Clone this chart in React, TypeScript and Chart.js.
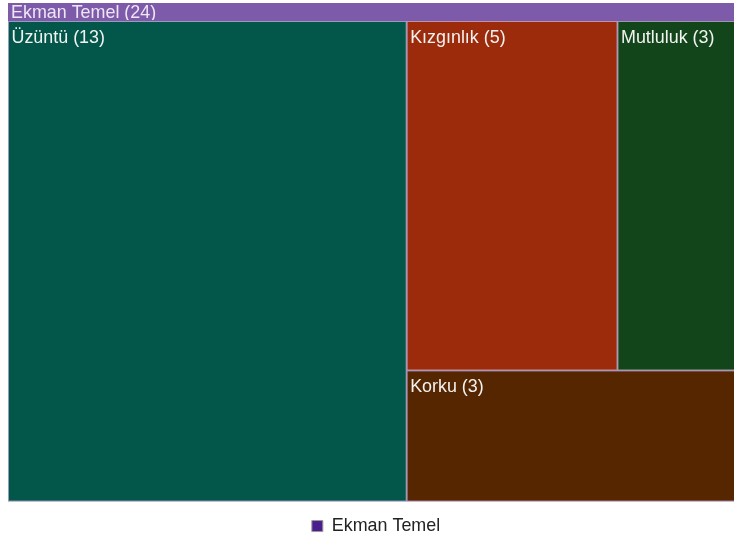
import React, { useEffect, useRef } from 'react';
import { Chart, registerables } from 'chart.js';

Chart.register(...registerables);

// ---- data ----
const groupLabel = 'Ekman Temel';
const categories = ['Üzüntü', 'Kızgınlık', 'Mutluluk', 'Korku'];
const values = [13, 5, 3, 3];
const cellColors = ['#03574A', '#9C2B0B', '#12461A', '#552600'];
const groupColor = '#7E5BAA';
const legendColor = '#4B1E8E';

// ---- styles ----
const FONT = '"Liberation Sans", Arial, Helvetica, sans-serif';
const FS = 17.9;
const CAPTION_H = 17;
const RATIO_LIMIT = 3;

type Item = { label: string; value: number; color: string };
type Cell = Item & { x: number; y: number; w: number; h: number };

function sumOf(a: number[]) {
  return a.reduce((s, v) => s + v, 0);
}

function worst(row: number[], side: number, k: number) {
  const s = sumOf(row) * k;
  const max = Math.max(...row) * k;
  const min = Math.min(...row) * k;
  return Math.max((side * side * max) / (s * s), (s * s) / (side * side * min));
}

function squarify(items: Item[], rx: number, ry: number, rw: number, rh: number): Cell[] {
  const total = sumOf(items.map((d) => d.value));
  const k = (rw * rh) / total;
  let x = rx, y = ry, w = rw, h = rh;
  const out: Cell[] = [];
  let i = 0;
  while (i < items.length) {
    const side = Math.min(w, h);
    let row: Item[] = [items[i]];
    let j = i + 1;
    while (j < items.length) {
      const cand = row.concat(items[j]);
      const cw = worst(cand.map((d) => d.value), side, k);
      const pw = worst(row.map((d) => d.value), side, k);
      if (cw > Math.max(pw, RATIO_LIMIT)) break;
      row = cand;
      j++;
    }
    const rowArea = sumOf(row.map((d) => d.value)) * k;
    if (w >= h) {
      const cw = rowArea / h;
      let cy = y;
      row.forEach((it) => {
        const ih = (it.value * k) / cw;
        out.push({ ...it, x, y: cy, w: cw, h: ih });
        cy += ih;
      });
      x += cw;
      w -= cw;
    } else {
      const rhh = rowArea / w;
      let cx = x;
      row.forEach((it) => {
        const iw = (it.value * k) / rhh;
        out.push({ ...it, x: cx, y, w: iw, h: rhh });
        cx += iw;
      });
      y += rhh;
      h -= rhh;
    }
    i = j;
  }
  return out;
}

const treemapPlugin = {
  id: 'treemapCells',
  beforeDatasetsDraw(chart: any) {
    const { ctx } = chart;
    const xs = chart.scales.x;
    const ys = chart.scales.y;
    const left = xs.getPixelForValue(0);
    const right = xs.getPixelForValue(1);
    const top = ys.getPixelForValue(0);
    const bottom = ys.getPixelForValue(1);
    const total = sumOf(values);

    ctx.save();
    // group background
    ctx.fillStyle = groupColor;
    ctx.fillRect(left, top, right - left, bottom - top);

    // caption
    ctx.save();
    ctx.beginPath();
    ctx.rect(left, top, right - left, CAPTION_H);
    ctx.clip();
    ctx.fillStyle = '#EDE6F5';
    ctx.font = `${FS}px ${FONT}`;
    ctx.textBaseline = 'alphabetic';
    ctx.textAlign = 'left';
    ctx.fillText(`${groupLabel} (${total})`, left + 3, top + 14.5);
    ctx.restore();

    // children
    const items: Item[] = categories.map((c, i) => ({ label: c, value: values[i], color: cellColors[i] }));
    const cTop = top + CAPTION_H + 1;
    const cells = squarify(items, left, cTop, right - left, bottom - cTop);
    cells.forEach((c) => {
      ctx.fillStyle = c.color;
      ctx.fillRect(c.x + 0.5, c.y + 0.5, c.w - 1, c.h - 1);
      ctx.strokeStyle = 'rgba(235,225,245,0.5)';
      ctx.lineWidth = 1;
      ctx.strokeRect(c.x + 0.5, c.y + 0.5, c.w - 1, c.h - 1);
      ctx.save();
      ctx.beginPath();
      ctx.rect(c.x, c.y, c.w, c.h);
      ctx.clip();
      ctx.fillStyle = '#F2F2F2';
      ctx.font = `${FS}px ${FONT}`;
      ctx.textBaseline = 'alphabetic';
      ctx.textAlign = 'left';
      ctx.fillText(`${c.label} (${c.value})`, c.x + 3.5, c.y + 21.5);
      ctx.restore();
    });
    ctx.restore();
  },
};

export default function App() {
  const ref = useRef<HTMLCanvasElement>(null);
  useEffect(() => {
    if (!ref.current) return;
    const chart = new Chart(ref.current, {
      type: 'scatter',
      data: {
        datasets: [
          {
            label: groupLabel,
            data: [],
            backgroundColor: legendColor,
            borderColor: '#9a9a9a',
            borderWidth: 1,
          },
        ],
      },
      options: {
        responsive: false,
        animation: false,
        devicePixelRatio: 1,
        layout: { padding: { top: 3, left: 0, right: 0, bottom: 0 } },
        scales: {
          x: { type: 'linear', min: 0, max: 1, display: false },
          y: { type: 'linear', min: 0, max: 1, reverse: true, display: false },
        },
        plugins: {
          legend: {
            position: 'bottom',
            labels: {
              boxWidth: 11,
              boxHeight: 11,
              padding: 15.6,
              color: '#222',
              font: { family: FONT, size: FS },
            },
          },
          tooltip: { enabled: false },
        },
      } as any,
      plugins: [treemapPlugin],
    });
    return () => chart.destroy();
  }, []);
  return (
    <div style={{ position: 'fixed', left: 0, top: 0, width: 734, height: 540, overflow: 'hidden', background: '#fff' }}>
      <canvas
        ref={ref}
        width={736}
        height={545}
        style={{ position: 'absolute', left: 8, top: 0, width: 736, height: 545 }}
      />
    </div>
  );
}
